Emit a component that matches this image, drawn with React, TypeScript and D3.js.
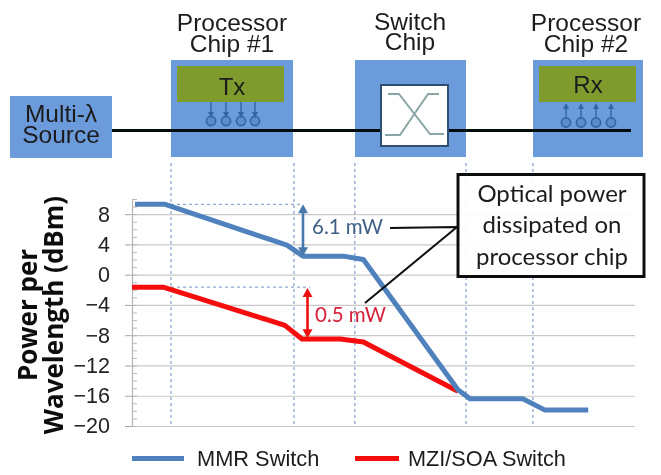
import { useRef, useEffect } from "react";
import * as d3 from "d3";

// position along the link (0-100, no labels in the picture) and power in dBm
const mmrPosition = [0.6, 6.6, 30.8, 34, 42, 46, 64.8, 67.2, 77.7, 82.1, 90.7];
const mmrPower = [9.3, 9.3, 3.9, 2.45, 2.45, 2.0, -15.2, -16.4, -16.4, -17.9, -17.9];
const mziPosition = [0, 6.2, 30.4, 33.8, 41.4, 46, 64.8];
const mziPower = [-1.65, -1.65, -6.7, -8.5, -8.5, -8.9, -15.4];

const yTicks = [8, 4, 0, -4, -8, -12, -16, -20];
const minorTicks = d3.range(-20, 11, 1);
const stageEdges = [7.75, 32.2, 44.3, 66.4, 79.7];

const FONT_ARIAL = "'Liberation Sans', Arial, sans-serif";
const FONT_BODY = "Lato, 'Open Sans', sans-serif";
const BOX_BLUE = "#6c9bdb";
const TX_GREEN = "#7f9b2f";
const LINE_BLUE = "#4f81bd";
const LINE_RED = "#f50a0a";
const GUIDE = "#8fa6d0";

const App = () => {
  const chartRef = useRef<SVGSVGElement | null>(null);

  useEffect(() => {
    const root = d3.select(chartRef.current);
    root.selectAll("*").remove();

    root
      .append("defs")
      .append("filter")
      .attr("id", "soft")
      .attr("x", "-5%")
      .attr("y", "-5%")
      .attr("width", "110%")
      .attr("height", "110%")
      .append("feGaussianBlur")
      .attr("stdDeviation", 0.55);

    const svg = root.append("g").attr("filter", "url(#soft)");

    const xScale = d3.scaleLinear().domain([0, 100]).range([132, 635]);
    const yScale = d3.scaleLinear().domain([-20, 10]).range([426, 199]);

    const label = (
      x: number,
      y: number,
      text: string,
      size: number,
      anchor = "middle",
      family = FONT_ARIAL,
      fill = "#1c1c1c"
    ) =>
      svg
        .append("text")
        .attr("x", x)
        .attr("y", y)
        .attr("text-anchor", anchor)
        .attr("font-family", family)
        .attr("font-size", size)
        .attr("fill", fill)
        .text(text);

    // chart: grid
    const grid = svg
      .append("g")
      .attr("transform", "translate(132, 0)")
      .call(d3.axisLeft(yScale).tickValues(yTicks).tickSize(-503).tickFormat(() => ""));
    grid.select(".domain").remove();
    grid.selectAll("line").attr("stroke", "#c9c9c9").attr("stroke-width", 1.2);

    // chart: minor ticks
    const minor = svg
      .append("g")
      .attr("transform", "translate(132, 0)")
      .call(d3.axisRight(yScale).tickValues(minorTicks).tickSize(5).tickFormat(() => ""));
    minor.select(".domain").attr("stroke", "#b5b5b5").attr("stroke-width", 1.2);
    minor.selectAll("line").attr("stroke", "#b8b8b8");

    // chart: major ticks and labels
    const axis = svg
      .append("g")
      .attr("transform", "translate(132, 0)")
      .call(d3.axisLeft(yScale).tickValues(yTicks).tickSize(7).tickPadding(15));
    axis.select(".domain").remove();
    axis.selectAll("line").attr("stroke", "#a8a8a8");
    axis
      .selectAll("text")
      .attr("font-family", FONT_ARIAL)
      .attr("font-size", 21.5)
      .attr("fill", "#222");

    // stage guides
    svg
      .selectAll(".stage")
      .data(stageEdges)
      .enter()
      .append("line")
      .attr("class", "stage")
      .attr("x1", d => xScale(d))
      .attr("x2", d => xScale(d))
      .attr("y1", 163)
      .attr("y2", yScale(-20))
      .attr("stroke", GUIDE)
      .attr("stroke-width", 1.3)
      .attr("stroke-dasharray", "3 3");

    // level guides above each curve
    [mmrPower[0], mziPower[0]].forEach((d, i) => {
      svg
        .append("line")
        .attr("x1", 135)
        .attr("x2", i === 0 ? 301 : 310)
        .attr("y1", yScale(d))
        .attr("y2", yScale(d))
        .attr("stroke", GUIDE)
        .attr("stroke-width", 1.2)
        .attr("stroke-dasharray", "3 3");
    });

    // curves
    const powerLine = d3
      .line<number>()
      .x(d => d)
      .y((_d, i) => i);
    const drawCurve = (positions: number[], power: number[], color: string) => {
      const path = powerLine
        .x((_d, i) => xScale(positions[i]))
        .y((_d, i) => yScale(power[i]))(power);
      svg
        .append("path")
        .attr("d", path)
        .attr("fill", "none")
        .attr("stroke", color)
        .attr("stroke-width", 5)
        .attr("stroke-linejoin", "round");
    };
    drawCurve(mziPosition, mziPower, LINE_RED);
    drawCurve(mmrPosition, mmrPower, LINE_BLUE);

    // double arrows
    const doubleArrow = (x: number, v1: number, v2: number, color: string) => {
      const y1 = yScale(v1);
      const y2 = yScale(v2);
      svg
        .append("line")
        .attr("x1", x)
        .attr("x2", x)
        .attr("y1", y1 + 3)
        .attr("y2", y2 - 3)
        .attr("stroke", color)
        .attr("stroke-width", 2.6);
      svg
        .append("path")
        .attr("d", `M${x},${y1} l-5,9 h10 Z M${x},${y2} l-5,-9 h10 Z`)
        .attr("fill", color);
    };
    doubleArrow(303, mmrPower[0], mmrPower[3], "#4a78ad");
    doubleArrow(307.5, mziPower[0] - 0.1, mziPower[3] + 0.1, "#ee1111");
    label(312, 234, "6.1 mW", 20.5, "start", FONT_BODY, "#3f6088");
    label(315, 321.5, "0.5 mW", 20.5, "start", FONT_BODY, "#d8203c");

    // y title
    svg
      .append("g")
      .attr("transform", "translate(37, 315) rotate(-90)")
      .call(g => {
        ["Power per", "Wavelength (dBm)"].forEach((t, i) => {
          g.append("text")
            .attr("y", i * 26)
            .attr("text-anchor", "middle")
            .attr("font-family", "'Open Sans', sans-serif")
            .attr("font-weight", 700)
            .attr("font-size", 26)
            .attr("fill", "#111")
            .text(t);
        });
      });

    // legend
    const legendLine = (x1: number, x2: number, color: string) =>
      svg
        .append("line")
        .attr("x1", x1)
        .attr("x2", x2)
        .attr("y1", 458.5)
        .attr("y2", 458.5)
        .attr("stroke", color)
        .attr("stroke-width", 5);
    legendLine(132, 184, LINE_BLUE);
    legendLine(355, 399, LINE_RED);
    label(197, 466, "MMR Switch", 21.8, "start");
    label(408, 466, "MZI/SOA Switch", 21.7, "start");

    // callout
    svg
      .append("rect")
      .attr("x", 458)
      .attr("y", 174.5)
      .attr("width", 186)
      .attr("height", 102)
      .attr("fill", "white")
      .attr("fill-opacity", 0.92)
      .attr("stroke", "#111")
      .attr("stroke-width", 3);
    label(552, 202, "Optical power", 24, "middle", FONT_BODY);
    label(552, 233, "dissipated on", 24, "middle", FONT_BODY);
    label(552, 265, "processor chip", 24, "middle", FONT_BODY);
    svg
      .append("path")
      .attr("d", "M390,228 L457,227 M365,303 L457,227")
      .attr("fill", "none")
      .attr("stroke", "#111")
      .attr("stroke-width", 2);

    // block diagram
    const box = (x: number, y: number, w: number, h: number, fill: string) =>
      svg.append("rect").attr("x", x).attr("y", y).attr("width", w).attr("height", h).attr("fill", fill);

    box(10, 96, 102, 62, BOX_BLUE);
    box(171, 60, 122, 97, BOX_BLUE);
    box(355, 60, 111, 97, BOX_BLUE);
    box(533, 60, 110, 97, BOX_BLUE);
    box(177, 66, 107, 36, TX_GREEN);
    box(539, 66, 97, 36, TX_GREEN);

    svg
      .append("line")
      .attr("x1", 112)
      .attr("x2", 631)
      .attr("y1", 130.5)
      .attr("y2", 130.5)
      .attr("stroke", "#05070f")
      .attr("stroke-width", 3);

    svg
      .append("rect")
      .attr("x", 381)
      .attr("y", 85)
      .attr("width", 67)
      .attr("height", 61)
      .attr("fill", "white")
      .attr("stroke", "#2f4f72")
      .attr("stroke-width", 2);
    svg
      .append("path")
      .attr("d", "M388,94 H399 L430,134 H444 M385,135 H400 L428,94 H439")
      .attr("fill", "none")
      .attr("stroke", "#8aa6a6")
      .attr("stroke-width", 2);

    const ringColor = "#2f66a8";
    [211, 226, 241, 255].forEach(x => {
      svg.append("line").attr("x1", x).attr("x2", x).attr("y1", 102).attr("y2", 114).attr("stroke", ringColor).attr("stroke-width", 1.4);
      svg.append("path").attr("d", `M${x},118 l-3,-6 h6 Z`).attr("fill", ringColor);
      svg.append("circle").attr("cx", x).attr("cy", 121).attr("r", 4.6).attr("fill", "#5c8ccb").attr("stroke", ringColor).attr("stroke-width", 1.6);
    });
    [566, 581, 596, 611].forEach(x => {
      svg.append("line").attr("x1", x).attr("x2", x).attr("y1", 117).attr("y2", 106).attr("stroke", ringColor).attr("stroke-width", 1.4);
      svg.append("path").attr("d", `M${x},103 l-3,6 h6 Z`).attr("fill", ringColor);
      svg.append("circle").attr("cx", x).attr("cy", 122.5).attr("r", 4.6).attr("fill", "#5c8ccb").attr("stroke", ringColor).attr("stroke-width", 1.6);
    });

    label(232, 31, "Processor", 24.5);
    label(232, 52, "Chip #1", 24.5);
    label(410, 30, "Switch", 24.5);
    label(410, 50, "Chip", 24.5);
    label(586, 31, "Processor", 24.5);
    label(586, 52, "Chip #2", 24.5);
    label(232, 95, "Tx", 24);
    label(588, 93, "Rx", 24);
    label(61, 122, "Multi-λ", 24.5);
    label(61, 143, "Source", 24.5);

    return () => {
      root.selectAll("*").remove();
    };
  }, []);

  return (
    <svg
      ref={chartRef}
      width={661}
      height={475}
      style={{ position: "absolute", left: 0, top: 0, background: "white" }}
    />
  );
};

export default App;
